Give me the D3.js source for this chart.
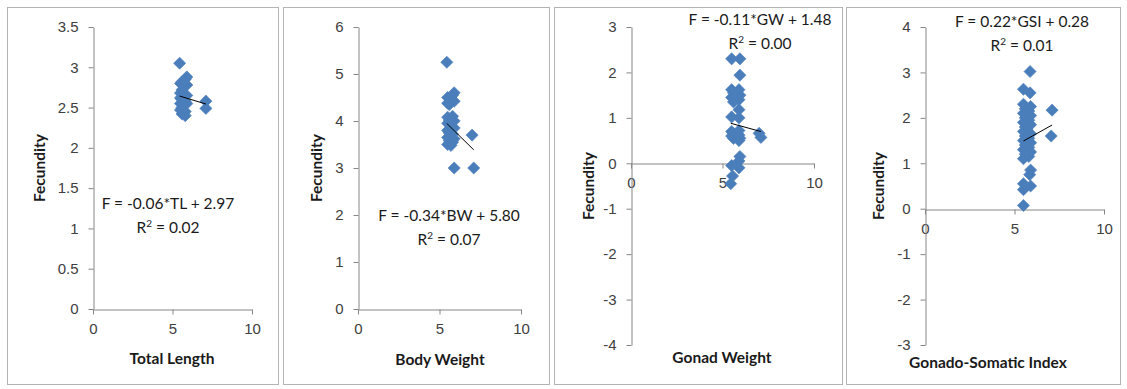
<!DOCTYPE html>
<html>
<head>
<meta charset="utf-8">
<script src="https://cdn.jsdelivr.net/npm/d3@7"></script>
<style>
body { margin: 0; background: #fff; }
svg { display: block; font-family: Lato, "Liberation Sans", sans-serif; }
.axis path, .axis line { stroke: #868686; }
.axis text { fill: #404040; font-size: 15px; }
</style>
</head>
<body>
<svg id="chart" width="1127" height="389"></svg>
<script>
// data (x = predictor, F = fecundity)
const tlX = [5.45, 5.9, 5.8, 5.6, 5.5, 5.9, 5.6, 5.5, 5.7, 5.9, 5.5, 5.6, 5.8, 5.5, 5.9, 5.6, 5.5, 5.8, 5.6, 5.8, 7.1, 7.1];
const tlF = [3.05, 2.88, 2.85, 2.82, 2.8, 2.78, 2.72, 2.68, 2.66, 2.65, 2.62, 2.6, 2.58, 2.55, 2.55, 2.5, 2.47, 2.45, 2.42, 2.4, 2.58, 2.49];

const bwX = [5.45, 5.9, 5.8, 5.5, 5.7, 5.9, 5.5, 5.6, 5.5, 5.8, 5.6, 5.9, 5.5, 5.7, 5.9, 5.5, 5.6, 5.8, 5.5, 5.9, 5.6, 5.8, 5.5, 5.7, 5.9, 7.1, 7.0];
const bwF = [5.25, 4.6, 4.55, 4.5, 4.48, 4.42, 4.38, 4.35, 4.08, 4.1, 4.02, 4.0, 3.95, 3.9, 3.85, 3.8, 3.75, 3.72, 3.65, 3.62, 3.58, 3.55, 3.5, 3.48, 3.0, 3.0, 3.7];

const gwX = [5.5, 5.95, 5.95, 5.5, 5.9, 5.6, 5.95, 5.5, 5.9, 5.6, 5.9, 5.5, 5.9, 5.5, 5.9, 5.6, 5.9, 5.5, 5.95, 5.6, 5.9, 7.0, 7.1, 5.95, 5.9, 5.5, 5.9, 5.55, 5.45];
const gwF = [2.3, 2.3, 1.94, 1.62, 1.62, 1.55, 1.5, 1.45, 1.4, 1.35, 1.18, 1.02, 1.0, 0.7, 0.72, 0.65, 0.62, 0.6, 0.55, 0.55, 0.5, 0.66, 0.57, 0.15, 0.05, -0.05, -0.1, -0.28, -0.45];

const gsiX = [5.87, 5.5, 5.87, 5.5, 5.9, 5.6, 5.8, 5.5, 5.9, 5.6, 5.8, 5.5, 5.9, 5.6, 5.7, 5.5, 5.9, 5.6, 5.8, 5.5, 5.9, 5.6, 5.8, 5.5, 5.9, 5.6, 5.8, 5.5, 7.1, 7.05, 5.9, 5.85, 5.9, 5.5, 5.5, 5.5];
const gsiF = [3.02, 2.63, 2.55, 2.3, 2.25, 2.2, 2.15, 2.1, 2.05, 2.0, 1.95, 1.9, 1.85, 1.8, 1.75, 1.7, 1.65, 1.6, 1.55, 1.5, 1.45, 1.4, 1.35, 1.3, 1.25, 1.2, 1.15, 1.1, 2.17, 1.6, 0.85, 0.75, 0.5, 0.55, 0.42, 0.07];

// fitted lines as printed on the chart
const fits = [
    { name: "TL", slope: -0.06, intercept: 2.97, r2: 0.02 },
    { name: "BW", slope: -0.34, intercept: 5.80, r2: 0.07 },
    { name: "GW", slope: -0.11, intercept: 1.48, r2: 0.00 },
    { name: "GSI", slope: 0.22, intercept: 0.28, r2: 0.01 }
];

const xTitles = ["Total Length", "Body Weight", "Gonad Weight", "Gonado-Somatic Index"];
const yDomains = [[0, 3.5], [0, 6], [-4, 3], [-3, 4]];
const yTickSteps = [0.5, 1, 1, 1];
const xTicks = [0, 5, 10];

// layout of each panel on the page
const panels = [
    { xs: tlX, fs: tlF, box: [7, 7, 278, 384], left: 93, right: 252, top: 27, bottom: 309,
      eq: [168, 204], yTitleX: 40, xTitle: [172, 359] },
    { xs: bwX, fs: bwF, box: [283, 7, 549, 384], left: 358, right: 521, top: 27, bottom: 309,
      eq: [449, 216], yTitleX: 317, xTitle: [440, 360] },
    { xs: gwX, fs: gwF, box: [554, 7, 842, 384], left: 631, right: 814, top: 27, bottom: 345,
      eq: [760, 20], yTitleX: 589, xTitle: [722, 358] },
    { xs: gsiX, fs: gsiF, box: [846, 7, 1120, 384], left: 925, right: 1104, top: 27, bottom: 345,
      eq: [1022, 22], yTitleX: 879, xTitle: [988, 363] }
];

const svg = d3.select("#chart");
const diamond = d3.symbol(d3.symbolSquare, 74);

panels.forEach((p, i) => {
    const g = svg.append("g");
    const fit = fits[i];

    g.append("rect").
    attr("x", p.box[0] + 0.5).
    attr("y", p.box[1] + 0.5).
    attr("width", p.box[2] - p.box[0]).
    attr("height", p.box[3] - p.box[1]).
    attr("fill", "#fff").
    attr("stroke", "#b4b4b4");

    const x = d3.scaleLinear().domain([0, 10]).range([p.left, p.right]);
    const y = d3.scaleLinear().domain(yDomains[i]).range([p.bottom, p.top]);
    const yTicks = d3.range(yDomains[i][0], yDomains[i][1] + 1e-9, yTickSteps[i]);
    const x0 = Math.max(0, yDomains[i][0]);

    g.append("g").
    attr("class", "axis").
    attr("transform", `translate(0,${Math.round(y(x0)) + 0.5})`).
    call(d3.axisBottom(x).tickValues(xTicks).tickSize(5).tickSizeOuter(0).tickPadding(9).tickFormat(d => String(d)));

    g.append("g").
    attr("class", "axis").
    attr("transform", `translate(${Math.round(x(0)) + 0.5},0)`).
    call(d3.axisLeft(y).tickValues(yTicks).tickSize(5).tickSizeOuter(0).tickPadding(10).tickFormat(d => String(d)));

    g.selectAll("path.pt").
    data(p.xs.map((v, k) => [v, p.fs[k]])).
    join("path").
    attr("class", "pt").
    attr("d", diamond).
    attr("transform", d => `translate(${x(d[0])},${y(d[1])}) rotate(45)`).
    attr("fill", "#4a7ebb").
    attr("stroke", "#4f81bd").
    attr("stroke-width", 0.6);

    const ext = d3.extent(p.xs);
    g.append("line").
    attr("x1", x(ext[0])).
    attr("y1", y(fit.slope * ext[0] + fit.intercept)).
    attr("x2", x(ext[1])).
    attr("y2", y(fit.slope * ext[1] + fit.intercept)).
    attr("stroke", "#000").
    attr("stroke-width", 1);

    const eq = g.append("text").
    attr("text-anchor", "middle").
    attr("font-size", 15.5).
    attr("fill", "#1a1a1a");
    eq.append("tspan").
    attr("x", p.eq[0]).
    attr("y", p.eq[1] + 5).
    text(`F = ${fit.slope.toFixed(2)}*${fit.name} + ${fit.intercept.toFixed(2)}`);
    const r2 = eq.append("tspan").
    attr("x", p.eq[0]).
    attr("y", p.eq[1] + 29);
    r2.append("tspan").text("R");
    r2.append("tspan").attr("font-size", 10).attr("dy", -6).text("2");
    r2.append("tspan").attr("dy", 6).text(` = ${fit.r2.toFixed(2)}`);

    g.append("text").
    attr("transform", `translate(${p.yTitleX + 5},${(p.top + p.bottom) / 2}) rotate(-90)`).
    attr("text-anchor", "middle").
    attr("font-size", 15.5).
    attr("font-weight", "bold").
    attr("fill", "#1a1a1a").
    text("Fecundity");

    g.append("text").
    attr("x", p.xTitle[0]).
    attr("y", p.xTitle[1] + 5).
    attr("text-anchor", "middle").
    attr("font-size", 15.5).
    attr("font-weight", "bold").
    attr("fill", "#1a1a1a").
    text(xTitles[i]);
});
</script>
</body>
</html>
